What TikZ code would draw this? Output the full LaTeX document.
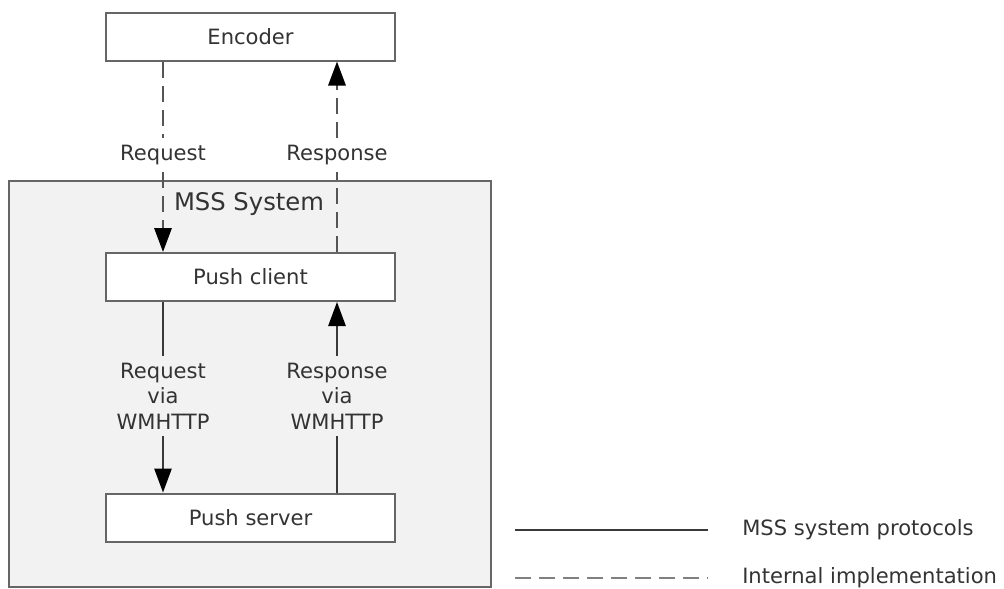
\documentclass[tikz,border=0pt]{standalone}
\usepackage{fontspec}
\setmainfont{DejaVu Sans}
\usetikzlibrary{arrows.meta}
\definecolor{boxline}{HTML}{666666}
\definecolor{sysfill}{HTML}{F2F2F2}
\definecolor{txt}{HTML}{333333}
\definecolor{protoline}{HTML}{3A3A3A}
\definecolor{internline}{HTML}{555555}
\tikzset{
  block/.style={draw=boxline, line width=1.5pt, fill=white, minimum width=216.75pt,
    minimum height=36pt, inner sep=0pt, text=txt, font=\fontsize{15.8}{19}\selectfont},
  sysbox/.style={draw=boxline, line width=1.5pt, fill=sysfill, minimum width=361.5pt,
    minimum height=304.5pt, inner sep=0pt},
  lbl/.style={text=txt, align=center, inner sep=5pt, font=\fontsize{15.8}{19}\selectfont},
  proto/.style={draw=protoline, line width=1.25pt},
  intern/.style={draw=internline, line width=1.5pt, dash pattern=on 12pt off 6pt},
  tip/.style={-{Triangle[length=18pt,width=13pt,color=black]}}
}
\begin{document}
\begin{tikzpicture}[x=0.75pt,y=-0.75pt]
\useasboundingbox (0,0) rectangle (1004,589);
% boxes
\node[sysbox] (mss) at (250,384) {};
\node[lbl, font=\fontsize{18.2}{22}\selectfont] (mssname) at (249,204) {MSS System};
\node[block] (encoder) at (250.5,36.5) {Encoder};
\node[block] (client) at (250.5,277) {Push client};
\node[block] (server) at (250.5,517.5) {Push server};
% labels
\node[lbl] (reqlbl) at (163,155) {Request};
\node[lbl] (resplbl) at (337,155) {Response};
\node[lbl] (reqvia) at (163,396) {Request\\via\\WMHTTP};
\node[lbl] (respvia) at (337,396) {Response\\via\\WMHTTP};
% internal implementation
\draw[intern] (encoder.south -| reqlbl) -- (reqlbl.north);
\draw[intern, tip] (reqlbl.south) -- (client.north -| reqlbl);
\draw[intern] (client.north -| resplbl) -- (resplbl.south);
\draw[intern, tip] (resplbl.north) -- (encoder.south -| resplbl);
% system protocols
\draw[proto] (client.south -| reqvia) -- (reqvia.north);
\draw[proto, tip] (reqvia.south) -- (server.north -| reqvia);
\draw[proto] (server.north -| respvia) -- (respvia.south);
\draw[proto, tip] (respvia.north) -- (client.south -| respvia);
% legend
\foreach \y/\sty/\col/\txt [count=\i] in {530/proto/protoline/MSS system protocols,
                                          578/intern/gray/Internal implementation}{
   \coordinate (leg\i a) at (515,\y);
   \coordinate (leg\i b) at (708,\y);
   \draw[\sty, draw=\col, line width=2.2pt] (leg\i a) -- (leg\i b);
   \node[lbl, anchor=west, inner sep=0pt] (leg\i) at (742,\y) {\txt};
}
\end{tikzpicture}
\end{document}
